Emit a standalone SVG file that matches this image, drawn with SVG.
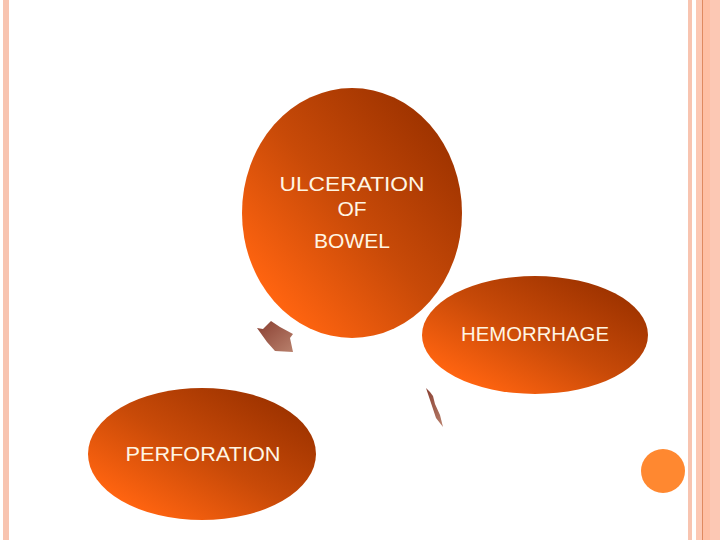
<svg xmlns="http://www.w3.org/2000/svg" width="720" height="540" viewBox="0 0 720 540">
<defs>
<linearGradient id="g" x1="0.15" y1="0.85" x2="0.85" y2="0.15">
<stop offset="0" stop-color="#ff6410"/>
<stop offset="0.5" stop-color="#c84a08"/>
<stop offset="1" stop-color="#a03400"/>
</linearGradient>
<linearGradient id="ga" x1="0" y1="0" x2="1" y2="1">
<stop offset="0" stop-color="#8a4032"/>
<stop offset="1" stop-color="#b8806c"/>
</linearGradient>
<style>
.t{font-family:"Liberation Sans",Arial,sans-serif;font-size:21px;fill:#fff6e4;text-anchor:middle}
</style>
</defs>
<rect width="720" height="540" fill="#ffffff"/>
<rect x="3" y="0" width="6" height="540" fill="#f8c4b0"/>
<rect x="688" y="0" width="4" height="540" fill="#f8c4b0"/>
<rect x="696" y="0" width="24" height="540" fill="#fcc8b4"/>
<rect x="703" y="0" width="7" height="540" fill="#ffbfa4"/>
<rect x="702" y="0" width="1" height="540" fill="#e08a60"/>
<circle cx="663" cy="471" r="22" fill="#ff8830"/>
<g id="connectors">
<polygon points="257,328 263,329 271,321 280,327 293,334 290,338 293,352 275,351 267,342" fill="url(#ga)"/>
<polygon points="426,388 430,392 433,396 435,404 440,415 443,427 436,418 430,400 428,394" fill="url(#ga)"/>
</g>
<g id="ulceration">
<ellipse cx="352" cy="213" rx="110" ry="125" fill="url(#g)"/>
<text class="t" x="352" y="191" textLength="145" lengthAdjust="spacingAndGlyphs">ULCERATION</text>
<text class="t" x="352" y="216">OF</text>
<text class="t" x="352" y="248">BOWEL</text>
</g>
<g id="hemorrhage">
<ellipse cx="535" cy="335" rx="113" ry="59" fill="url(#g)"/>
<text class="t" x="535" y="341" textLength="148" lengthAdjust="spacingAndGlyphs">HEMORRHAGE</text>
</g>
<g id="perforation">
<ellipse cx="202" cy="454" rx="114" ry="66" fill="url(#g)"/>
<text class="t" x="203" y="461" textLength="155" lengthAdjust="spacingAndGlyphs">PERFORATION</text>
</g>
</svg>
